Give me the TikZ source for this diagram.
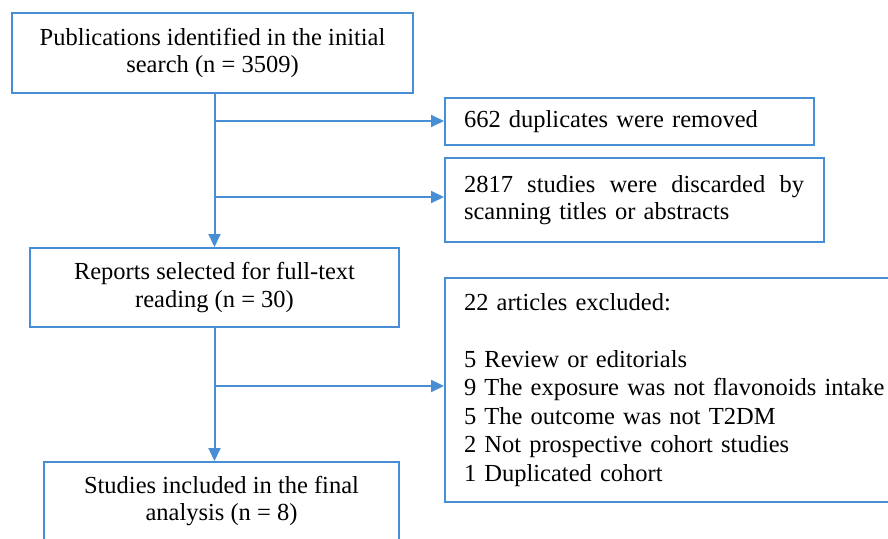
\documentclass[tikz,border=0pt]{standalone}
\usepackage{fontspec}
\setmainfont{Liberation Serif}
\usetikzlibrary{arrows.meta}
\definecolor{flowblue}{RGB}{72,142,212}
\tikzset{
	box/.style={draw=flowblue, line width=2pt, inner sep=0pt, anchor=north west,
		font=\fontsize{24.5}{27.5}\selectfont},
	arr/.style={draw=flowblue, line width=2pt, -{Triangle[length=13pt,width=12pt]}}
}
\begin{document}
\begin{tikzpicture}[x=1pt,y=-1pt]
	\useasboundingbox (0,0) rectangle (888,538);
	\clip (0,0) rectangle (888,538);
	% Boxes
	\node [box, minimum width=401pt, minimum height=80pt, align=center] (pub) at (11,12)
		{Publications identified in the initial\\search (n = 3509)};
	\node [box, minimum width=369pt, minimum height=47pt, text width=369pt, align=left] (dup) at (444,97)
		{\hspace*{19pt}662 duplicates were removed};
	\node [box, minimum width=379pt, minimum height=84pt, text width=379pt, align=left] (scan) at (444,157)
		{\hspace*{19pt}\hbox to 340pt{2817\hfill studies\hfill were\hfill discarded\hfill by}\\
		 \hspace*{19pt}scanning titles or abstracts};
	\node [box, minimum width=369pt, minimum height=79pt, align=center] (rep) at (29,247)
		{Reports selected for full-text\\reading (n = 30)};
	\node [box, minimum width=460pt, minimum height=224pt, text width=460pt, align=left,
		font=\fontsize{24.5}{28.5}\selectfont] (excl) at (444,277)
		{\hspace*{19pt}22 articles excluded:\\[28pt]
		 \hspace*{19pt}5 Review or editorials\\
		 \hspace*{19pt}9 The exposure was not flavonoids intake\\
		 \hspace*{19pt}5 The outcome was not T2DM\\
		 \hspace*{19pt}2 Not prospective cohort studies\\
		 \hspace*{19pt}1 Duplicated cohort};
	\node [box, minimum width=355pt, minimum height=78pt, align=center] (fin) at (43,461)
		{Studies included in the final\\analysis (n = 8)};
	% Flow
	\coordinate (j1) at (213.5,121);
	\coordinate (j2) at (213.5,197);
	\coordinate (j3) at (213.5,386);
	\draw [arr] (pub.south -| rep.north) -- (rep.north);
	\draw [arr] (rep.south) -- (rep.south |- fin.north);
	\draw [arr] (j1) -- (j1 -| dup.west);
	\draw [arr] (j2) -- (j2 -| scan.west);
	\draw [arr] (j3) -- (j3 -| excl.west);
\end{tikzpicture}
\end{document}
